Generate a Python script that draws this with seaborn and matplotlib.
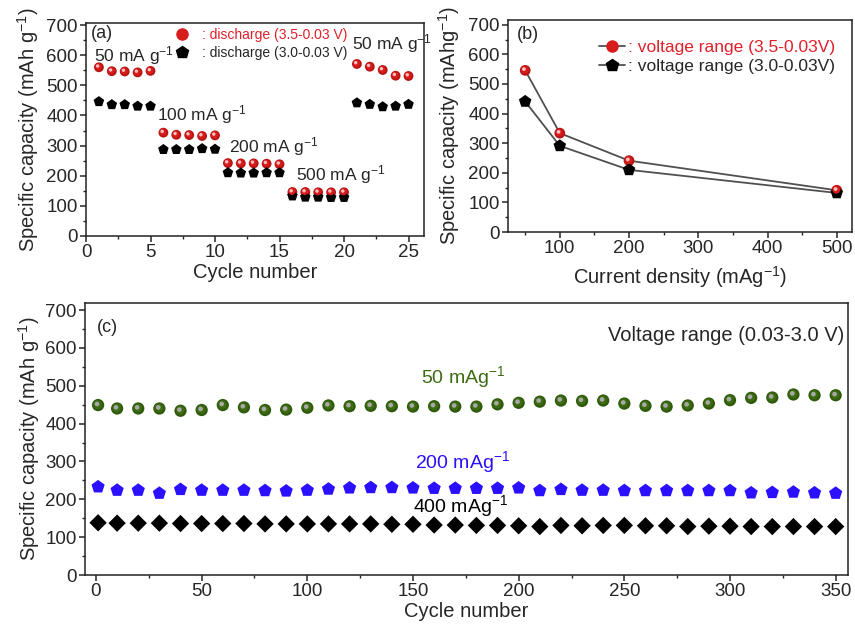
import numpy as np
import pandas as pd
import matplotlib
matplotlib.use("Agg")
import matplotlib.pyplot as plt
from matplotlib.ticker import MultipleLocator
from matplotlib.transforms import offset_copy
from matplotlib.lines import Line2D
import seaborn as sns

# ---------------- data ----------------
cycles_a = list(range(1, 26))
red_a = [560, 547, 546, 543, 548, 343, 336, 335, 332, 334, 242, 241, 241, 240, 238,
         146, 146, 145, 145, 145, 571, 562, 551, 532, 531]
black_a = [446, 436, 436, 431, 431, 287, 287, 287, 290, 288, 210, 209, 209, 210, 210,
           133, 129, 129, 128, 128, 442, 437, 429, 431, 437]
rate_labels_a = ["50 mA g$^{-1}$", "100 mA g$^{-1}$", "200 mA g$^{-1}$", "500 mA g$^{-1}$", "50 mA g$^{-1}$"]

density_b = [50, 100, 200, 500]
red_b = [546, 334, 241, 141]
black_b = [441, 291, 210, 132]

cycles_c = [1] + list(range(10, 351, 10))
green_c = [449, 440, 440, 440, 434, 436, 449, 443, 436, 437, 442, 448, 446, 447, 446, 445,
           446, 445, 445, 451, 455, 458, 461, 460, 461, 453, 447, 445, 448, 453, 462, 468,
           469, 477, 475, 475]
blue_c = [233, 224, 224, 216, 226, 224, 224, 224, 223, 222, 224, 227, 230, 231, 231, 230,
          229, 229, 229, 229, 230, 223, 226, 224, 224, 223, 223, 223, 223, 223, 223, 217,
          218, 219, 217, 216]
black_c = [138, 137, 137, 137, 136, 136, 136, 136, 135, 135, 135, 135, 135, 135, 134, 134,
           132, 132, 131, 131, 130, 128, 131, 130, 131, 131, 130, 130, 128, 129, 129, 128,
           128, 128, 128, 128]

# ---------------- style ----------------
sns.set_style("ticks")
plt.rcParams["font.family"] = ["Liberation Sans", "DejaVu Sans"]
plt.rcParams["mathtext.fontset"] = "custom"
plt.rcParams["mathtext.rm"] = "Liberation Sans"
plt.rcParams["mathtext.it"] = "Liberation Sans"
plt.rcParams["mathtext.default"] = "regular"
plt.rcParams["axes.linewidth"] = 1.1
plt.rcParams["axes.edgecolor"] = "#222222"

RED = "#d81c1c"
REDTXT = "#e0202a"
GREEN = "#3c6b12"
BLUE = "#2a10ff"
TICK = 13.5
LAB = 14.5

fig = plt.figure(figsize=(8.55, 6.3), dpi=100)
ax_a = fig.add_axes([0.1006, 0.6254, 0.3953, 0.3386])
ax_b = fig.add_axes([0.594, 0.6317, 0.4025, 0.3365])
ax_c = fig.add_axes([0.0994, 0.0873, 0.8921, 0.4313])


def style_axes(ax, xmaj, xmin, ymaj=100, ymin=50):
    ax.xaxis.set_major_locator(MultipleLocator(xmaj))
    ax.xaxis.set_minor_locator(MultipleLocator(xmin))
    ax.yaxis.set_major_locator(MultipleLocator(ymaj))
    ax.yaxis.set_minor_locator(MultipleLocator(ymin))
    ax.tick_params(which="major", direction="out", length=4, width=1.1, labelsize=TICK, pad=2)
    ax.tick_params(which="minor", direction="out", length=2.5, width=1.0)
    for s in ax.spines.values():
        s.set_visible(True)


def balls(ax, x, y, s, base, mid, hi, hi_frac=0.35, hi_off=0.9):
    df = pd.DataFrame({"x": x, "y": y})
    sns.scatterplot(data=df, x="x", y="y", s=s, color=base, edgecolor="none", ax=ax, zorder=3)
    d = np.sqrt(s)
    t1 = offset_copy(ax.transData, fig=fig, x=-0.35, y=0.35, units="points")
    sns.scatterplot(data=df, x="x", y="y", s=(0.72 * d) ** 2, color=mid, edgecolor="none",
                    ax=ax, zorder=4, transform=t1)
    t2 = offset_copy(ax.transData, fig=fig, x=-hi_off, y=hi_off, units="points")
    sns.scatterplot(data=df, x="x", y="y", s=(hi_frac * d) ** 2, color=hi, edgecolor="none",
                    ax=ax, zorder=5, transform=t2)


def marks(ax, x, y, s, marker, color):
    df = pd.DataFrame({"x": x, "y": y})
    sns.scatterplot(data=df, x="x", y="y", s=s, marker=marker, color=color,
                    edgecolor="none", ax=ax, zorder=3)


# ---------------- panel (a) ----------------
balls(ax_a, cycles_a, red_a, 50, "#b81414", RED, "#f6c0c0")
marks(ax_a, cycles_a, black_a, 64, "p", "black")
ax_a.set_xlim(0, 26.2)
ax_a.set_ylim(0, 708)
style_axes(ax_a, 5, 2.5)
ax_a.set_xlabel("Cycle number", fontsize=LAB, labelpad=1)
ax_a.set_ylabel("Specific capacity (mAh g$^{-1}$)", fontsize=LAB, labelpad=4)
ax_a.text(0.4, 672, "(a)", fontsize=13, va="center")
pos_a = [(0.6, 600), (5.5, 402), (11.1, 296), (16.3, 205), (20.6, 640)]
for (px, py), lab in zip(pos_a, rate_labels_a):
    ax_a.text(px, py, lab, fontsize=12.5, va="center", ha="left")
h_a = [Line2D([], [], ls="none", marker="o", ms=8, mfc=RED, mec=RED),
       Line2D([], [], ls="none", marker="p", ms=9, mfc="black", mec="black")]
leg_a = ax_a.legend(h_a, [": discharge (3.5-0.03 V)", ": discharge (3.0-0.03 V)"],
                    loc="upper left", bbox_to_anchor=(0.235, 1.02), frameon=False,
                    fontsize=10, handletextpad=0.9, borderaxespad=0.3, labelspacing=0.3,
                    handlelength=1.0)
leg_a.get_texts()[0].set_color(REDTXT)

# ---------------- panel (b) ----------------
df_b = pd.DataFrame({"d": density_b + density_b,
                     "v": red_b + black_b,
                     "s": ["r"] * 4 + ["k"] * 4})
sns.lineplot(data=df_b, x="d", y="v", units="s", estimator=None, color="#505050",
             lw=1.3, ax=ax_b, zorder=2)
balls(ax_b, density_b, red_b, 60, "#b81414", RED, "#f6c0c0")
marks(ax_b, density_b, black_b, 90, "p", "black")
ax_b.set_xlim(25, 522)
ax_b.set_ylim(0, 716)
style_axes(ax_b, 100, 50)
ax_b.set_xlabel("Current density (mAg$^{-1}$)", fontsize=LAB, labelpad=5)
ax_b.set_ylabel("Specific capacity (mAhg$^{-1}$)", fontsize=LAB, labelpad=4)
ax_b.text(38, 668, "(b)", fontsize=13, va="center")
h_b = [Line2D([], [], color="#505050", lw=1.3, marker="o", ms=8, mfc=RED, mec=RED),
       Line2D([], [], color="#505050", lw=1.3, marker="p", ms=9, mfc="black", mec="black")]
leg_b = ax_b.legend(h_b, [": voltage range (3.5-0.03V)", ": voltage range (3.0-0.03V)"],
                    loc="upper right", bbox_to_anchor=(1.0, 0.99), frameon=False,
                    fontsize=12.5, handletextpad=0.15, borderaxespad=0.6, labelspacing=0.25,
                    handlelength=1.5)
leg_b.get_texts()[0].set_color(REDTXT)

# ---------------- panel (c) ----------------
balls(ax_c, cycles_c, green_c, 78, "#2f5a0c", GREEN, "#a8a8a8", hi_frac=0.38, hi_off=0.8)
marks(ax_c, cycles_c, blue_c, 100, "p", BLUE)
marks(ax_c, cycles_c, black_c, 78, "D", "black")
ax_c.set_xlim(-5.2, 355.7)
ax_c.set_ylim(0, 718)
style_axes(ax_c, 50, 25)
ax_c.set_xlabel("Cycle number", fontsize=LAB, labelpad=1)
ax_c.set_ylabel("Specific capacity (mAh g$^{-1}$)", fontsize=LAB, labelpad=2)
ax_c.text(0.5, 655, "(c)", fontsize=13, va="center")
ax_c.text(154, 522, "50 mAg$^{-1}$", fontsize=14, color=GREEN, va="center")
ax_c.text(151, 298, "200 mAg$^{-1}$", fontsize=14, color=BLUE, va="center")
ax_c.text(150, 182, "400 mAg$^{-1}$", fontsize=14, color="black", va="center")
ax_c.text(354, 634, "Voltage range (0.03-3.0 V)", fontsize=14.5, ha="right", va="center")

fig.savefig("out.png", dpi=100)
